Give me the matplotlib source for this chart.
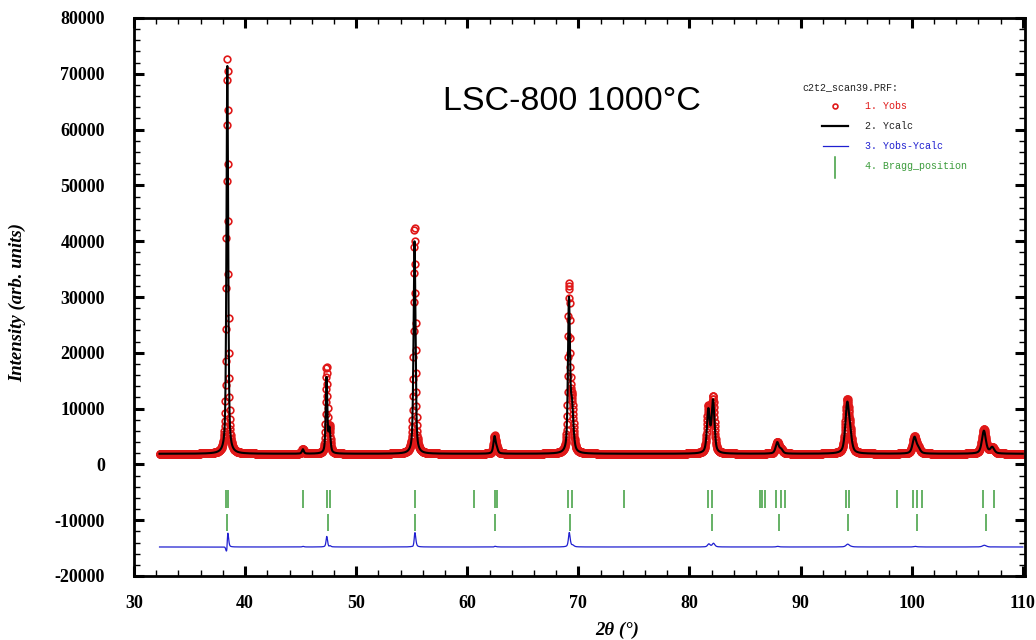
import numpy as np
import matplotlib
matplotlib.use("Agg")
import matplotlib.pyplot as plt
from matplotlib.ticker import MultipleLocator

plt.rcParams["axes.unicode_minus"] = False

# ---------------- data ----------------
two_theta_start = 32.3
two_theta_end = 110.0
step = 0.02
background = 1900.0

# Reflections: position (deg), calculated height, observed height (above background), FWHM (deg)
peak_pos   = [38.40, 45.20, 47.33, 47.60, 55.25, 62.45, 62.65, 69.15, 69.42,
              81.70, 82.12, 87.90, 88.25, 94.20, 94.48, 100.25, 100.60, 106.50, 107.25]
peak_calc  = [69500, 800, 13600, 4200, 38400, 3000, 800, 26800, 8000,
              7600, 9300, 2000, 700, 8800, 2200, 2900, 800, 4100, 1100]
peak_obs   = [70800, 900, 15400, 4300, 40600, 3100, 800, 29200, 8200,
              8100, 9900, 2100, 700, 9300, 2200, 3000, 800, 4400, 1100]
peak_fwhm  = [0.18, 0.20, 0.17, 0.20, 0.20, 0.24, 0.24, 0.21, 0.30,
              0.30, 0.30, 0.34, 0.34, 0.40, 0.36, 0.40, 0.40, 0.42, 0.42]
obs_shift = 0.003      # small peak-position offset of observed pattern
diff_offset = -14800.0

# Bragg positions: phase 1 (upper row) and phase 2 (lower row)
bragg_1 = [38.32, 38.47, 45.20, 47.36, 47.66, 55.30, 60.60, 62.46, 62.64,
           69.10, 69.40, 74.10, 81.70, 82.07, 86.33, 86.55, 86.78, 87.80,
           88.20, 88.60, 94.05, 94.35, 98.70, 100.10, 100.50, 100.90,
           106.46, 107.45]
bragg_2 = [38.38, 47.45, 55.30, 62.52, 69.28, 82.00, 88.10, 94.30, 100.45, 106.70]
bragg_1_span = (-4500, -7900)
bragg_2_span = (-8800, -12000)

x_ticks = [30, 40, 50, 60, 70, 80, 90, 100, 110]
y_ticks = [-20000, -10000, 0, 10000, 20000, 30000, 40000, 50000, 60000, 70000, 80000]

legend_title = "c2t2_scan39.PRF:"
legend_labels = ["1. Yobs", "2. Ycalc", "3. Yobs-Ycalc", "4. Bragg_position"]
annotation = "LSC-800 1000°C"

# ---------------- profile construction ----------------
def pseudo_voigt(x, x0, h, fwhm, eta=0.55):
    d = (x - x0) / (fwhm / 2.0)
    return h * (eta / (1 + d ** 2) + (1 - eta) * np.exp(-np.log(2) * d ** 2))

tt = np.arange(two_theta_start, two_theta_end + step / 2, step)
y_calc = np.full_like(tt, background)
y_obs = np.full_like(tt, background)
for p, hc, ho, w in zip(peak_pos, peak_calc, peak_obs, peak_fwhm):
    y_calc += pseudo_voigt(tt, p, hc, w)
    y_obs += pseudo_voigt(tt, p + obs_shift, ho, w)
y_diff = y_obs - y_calc + diff_offset

# ---------------- figure ----------------
W, H = 1036, 640
fig = plt.figure(figsize=(W / 100, H / 100), dpi=100)
L, R, T, B = 134, 1025, 18, 576
ax = fig.add_axes([L / W, 1 - B / H, (R - L) / W, (B - T) / H])

red = "#e01818"
green = "#3c9c3c"
blue = "#2020d0"

ax.plot(tt, y_obs, linestyle="none", marker="o", markersize=4.8,
        markerfacecolor="none", markeredgecolor=red, markeredgewidth=1.2, zorder=2)
ax.plot(tt, y_calc, color="black", lw=1.5, zorder=3)
ax.plot(tt, y_diff, color=blue, lw=0.9, zorder=3)
ax.vlines(bragg_1, bragg_1_span[1], bragg_1_span[0], color=green, lw=1.1)
ax.vlines(bragg_2, bragg_2_span[1], bragg_2_span[0], color=green, lw=1.1)

ax.set_xlim(30, 110.2)
ax.set_ylim(-20000, 80000)
ax.set_xticks(x_ticks)
ax.set_yticks(y_ticks)
ax.xaxis.set_minor_locator(MultipleLocator(2))
ax.yaxis.set_minor_locator(MultipleLocator(2000))

serif = ["Liberation Serif", "DejaVu Serif"]
for lab in ax.get_xticklabels() + ax.get_yticklabels():
    lab.set_fontfamily(serif)
    lab.set_fontweight("bold")
    lab.set_fontsize(13)

ax.tick_params(axis="both", which="major", direction="in", length=7, width=2.2,
               top=True, right=True, color="black")
ax.tick_params(axis="both", which="minor", direction="in", length=4, width=1.0,
               top=True, right=True)
ax.tick_params(axis="y", which="major", pad=21)
ax.tick_params(axis="x", which="major", pad=14)
for s in ax.spines.values():
    s.set_linewidth(2.0)

def px(x, y):
    return x / W, 1 - y / H

fig.text(*px(18, 303), "Intensity (arb. units)", rotation=90, ha="center", va="center",
         family=serif, style="italic", fontweight="bold", fontsize=13.5)
fig.text(*px(617, 630), "2θ (°)", ha="center", va="center",
         family=serif, style="italic", fontweight="bold", fontsize=13.5)

fig.text(*px(443, 101), annotation, ha="left", va="center",
         family=["Liberation Sans", "DejaVu Sans"], fontsize=24.5, color="black")

mono = ["Liberation Mono", "DejaVu Sans Mono"]
fig.text(*px(802, 87), legend_title, ha="left", va="center", family=mono, fontsize=7.2, color="#222222")
rows_y = [106, 126, 146, 166]
cols = [red, "#222222", blue, green]
for yy, lab, c in zip(rows_y, legend_labels, cols):
    fig.text(*px(865, yy), lab, ha="left", va="center", family=mono, fontsize=7.2, color=c)
# legend symbols
fig.lines.append(matplotlib.lines.Line2D([835 / W], [1 - 106 / H], transform=fig.transFigure,
                 marker="o", markersize=3.5, markerfacecolor="none", markeredgecolor=red,
                 markeredgewidth=1.2, linestyle="none"))
fig.lines.append(matplotlib.lines.Line2D([822 / W, 848 / W], [1 - 126 / H] * 2,
                 transform=fig.transFigure, color="black", lw=1.6))
fig.lines.append(matplotlib.lines.Line2D([823 / W, 848 / W], [1 - 146 / H] * 2,
                 transform=fig.transFigure, color=blue, lw=0.9))
fig.lines.append(matplotlib.lines.Line2D([835 / W, 835 / W], [1 - 157 / H, 1 - 178 / H],
                 transform=fig.transFigure, color=green, lw=1.1))

fig.savefig("out.png", dpi=100)
